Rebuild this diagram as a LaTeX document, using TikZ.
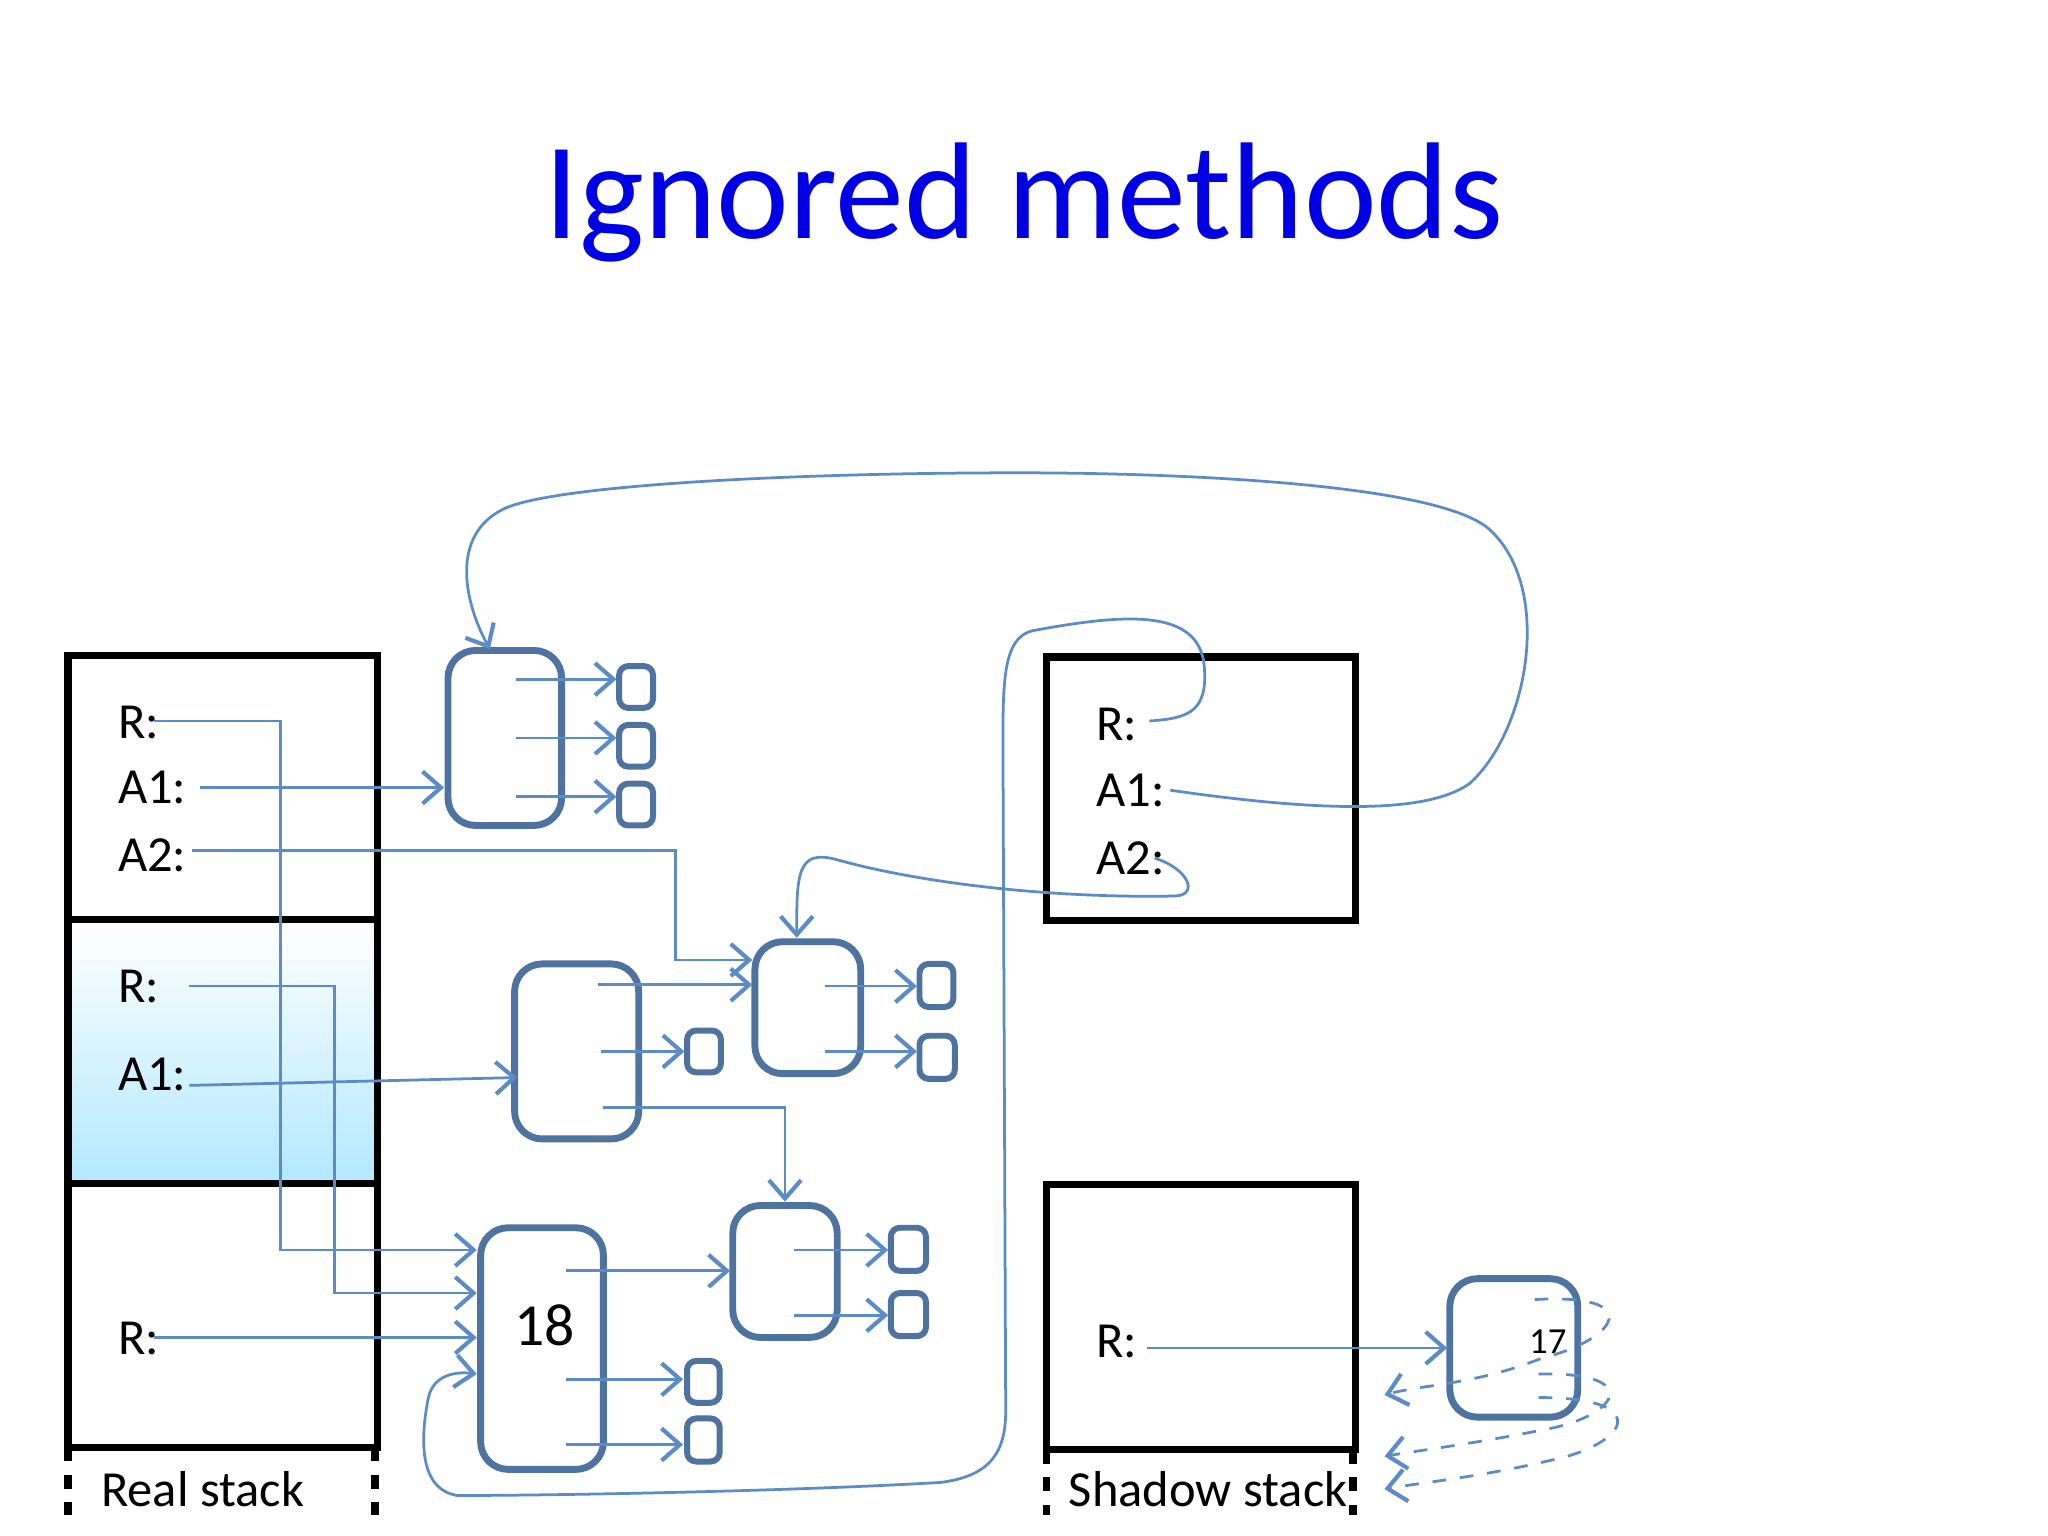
\documentclass[tikz,border=0pt]{standalone}
\usepackage{fontspec}
\setmainfont{Carlito}
\usetikzlibrary{arrows.meta}
\definecolor{obj}{HTML}{4F73A0}
\definecolor{ptr}{HTML}{5C8CC8}
\begin{document}
\begin{tikzpicture}[x=0.01cm,y=-0.01cm,
 frame/.style={draw=black,line width=1.6pt},
 obj/.style={draw=obj,line width=1.5pt,rounded corners=6pt},
 sq/.style={draw=obj,line width=1.3pt,rounded corners=2pt},
 lbl/.style={font=\fontsize{11}{11}\selectfont,anchor=west},
 p/.style={draw=ptr,line width=0.6pt,-{Straight Barb[length=4pt,width=7pt,line width=0.9pt]}},
 pd/.style={p,dashed}]
\useasboundingbox (0,0) rectangle (1568,1176);
\node[text=blue!90!black,font=\fontsize{30}{30}\selectfont] (title) at (784,155) {Ignored methods};
% real stack
\draw[frame] (52,502) rectangle (289,704);
\shade[top color=white,bottom color=blue!30!cyan!30] (52,704) rectangle (289,906);
\draw[frame] (52,704) rectangle (289,906);
\draw[frame] (52,906) rectangle (289,1108);
\draw[line width=1.6pt,dashed] (52,1108) -- (52,1160) (287,1108) -- (287,1160);
\node[lbl] (rs) at (65,1140) {Real stack};
% shadow stack
\draw[frame] (801,503) rectangle (1038,705);
\draw[frame] (801,907) rectangle (1038,1110);
\draw[line width=1.6pt,dashed] (801,1110) -- (801,1160) (1036,1110) -- (1036,1160);
\node[lbl] (ss) at (806,1140) {Shadow stack};
% labels
\node[lbl] (r1) at (78,553) {R:};
\node[lbl] (a11) at (78,603) {A1:};
\node[lbl] (a21) at (78,655) {A2:};
\node[lbl] (r2) at (78,755) {R:};
\node[lbl] (a12) at (78,823) {A1:};
\node[lbl] (r3) at (78,1025) {R:};
\node[lbl] (sr1) at (827,555) {R:};
\node[lbl] (sa1) at (827,605) {A1:};
\node[lbl] (sa2) at (827,657) {A2:};
\node[lbl] (sr2) at (827,1027) {R:};
% objects
\draw[obj] (343,498) rectangle (430,632);
\draw[sq] (474,510) rectangle (500,542);
\draw[sq] (474,555) rectangle (500,587);
\draw[sq] (474,600) rectangle (500,632);
\draw[obj] (394,738) rectangle (489,872);
\draw[sq] (526,789) rectangle (552,821);
\draw[obj] (578,721) rectangle (659,822);
\draw[sq] (704,738) rectangle (730,771);
\draw[sq] (704,793) rectangle (731,826);
\draw[obj] (561,923) rectangle (641,1024);
\draw[sq] (682,940) rectangle (709,973);
\draw[sq] (682,990) rectangle (709,1023);
\draw[obj] (368,940) rectangle (462,1125);
\node[font=\fontsize{13}{13}\selectfont] (n18) at (417,1015) {18};
\draw[sq] (526,1042) rectangle (551,1074);
\draw[sq] (526,1086) rectangle (551,1119);
\draw[obj] (1110,979) rectangle (1208,1085);
\node[font=\fontsize{8}{8}\selectfont] (n17) at (1185,1027) {17};
% pointers
\draw[p] (118,552) -- (215,552) -- (215,957) -- (365,957);
\draw[p] (153,603) -- (340,603);
\draw[p] (147,651) -- (517,651) -- (517,735) -- (576,735);
\draw[p] (145,755) -- (256,755) -- (256,990) -- (365,990);
\draw[p] (145,831) -- (396,825);
\draw[p] (118,1024) -- (365,1024);
\draw[p] (395,520) -- (472,520);
\draw[p] (395,565) -- (472,565);
\draw[p] (395,610) -- (472,610);
\draw[p] (458,754) -- (576,754);
\draw[p] (460,805) -- (524,805);
\draw[p] (462,848) -- (601,848) -- (601,920);
\draw[p] (632,755) -- (702,755);
\draw[p] (632,805) -- (702,805);
\draw[p] (608,957) -- (680,957);
\draw[p] (608,1007) -- (680,1007);
\draw[p] (433,973) -- (559,973);
\draw[p] (433,1056) -- (523,1056);
\draw[p] (433,1106) -- (523,1106);
\draw[p] (878,1032) -- (1108,1032);
% curved pointers
\draw[p] (896,605) .. controls (1000,620) and (1090,625) .. (1125,600)
 .. controls (1170,560) and (1190,450) .. (1140,405)
 .. controls (1100,370) and (900,362) .. (780,362)
 .. controls (600,362) and (420,372) .. (385,390)
 .. controls (345,410) and (355,460) .. (375,497);
\draw[p] (880,552) .. controls (910,550) and (925,545) .. (922,510)
 .. controls (918,465) and (860,470) .. (790,483)
 .. controls (765,490) and (768,530) .. (768,600)
 -- (770,1080) .. controls (770,1110) and (760,1130) .. (720,1135)
 .. controls (600,1142) and (420,1145) .. (350,1145)
 .. controls (320,1140) and (322,1100) .. (328,1070)
 .. controls (332,1052) and (350,1050) .. (365,1052);
\draw[p] (884,657) .. controls (910,665) and (918,685) .. (900,686)
 .. controls (800,688) and (700,675) .. (640,658)
 .. controls (610,650) and (610,670) .. (610,718);
\draw[pd] (1175,995) .. controls (1260,990) and (1240,1025) .. (1180,1040)
 .. controls (1130,1060) and (1090,1060) .. (1060,1068);
\draw[pd] (1178,1052) .. controls (1260,1050) and (1240,1085) .. (1180,1095)
 .. controls (1130,1105) and (1090,1110) .. (1060,1115);
\draw[pd] (1178,1070) .. controls (1260,1070) and (1250,1100) .. (1200,1115)
 .. controls (1140,1130) and (1090,1135) .. (1060,1140);
\end{tikzpicture}
\end{document}
